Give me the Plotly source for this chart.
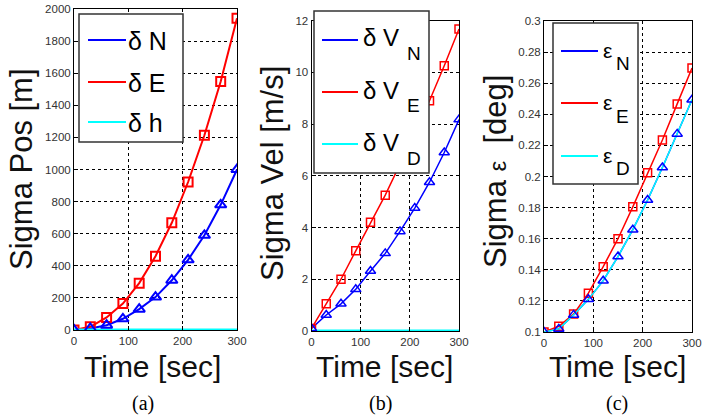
import plotly.graph_objects as go

# ---------------- data ----------------
time_s = [0, 30, 60, 90, 120, 150, 180, 210, 240, 270, 300]

pos_N = [0, 10, 30, 70, 130, 205, 310, 437, 590, 780, 1000]
pos_E = [0, 20, 78, 165, 292, 460, 668, 922, 1213, 1548, 1942]
pos_h = [0, 0, 0, 0, 0, 0, 0, 0, 0, 0, 0]

vel_N = [0.1, 0.62, 1.05, 1.61, 2.32, 3.0, 3.85, 4.75, 5.75, 6.9, 8.17]
vel_E = [0.1, 1.05, 2.0, 3.1, 4.2, 5.25, 6.45, 7.65, 8.9, 10.25, 11.67]
vel_D = [0, 0, 0, 0, 0, 0, 0, 0, 0, 0, 0]

att_N = [0.1, 0.102, 0.111, 0.121, 0.133, 0.1485, 0.1658, 0.1849, 0.2058, 0.2274, 0.2494]
att_E = [0.1, 0.1037, 0.1115, 0.125, 0.142, 0.160, 0.1805, 0.2024, 0.2235, 0.2467, 0.2698]
att_D = [0.1, 0.102, 0.111, 0.121, 0.133, 0.1485, 0.1658, 0.1849, 0.2058, 0.2274, 0.2494]

x_ticks = [0, 100, 200, 300]
x_ticktext = ["0", "100", "200", "300"]
pos_ticks = [0, 200, 400, 600, 800, 1000, 1200, 1400, 1600, 1800, 2000]
pos_ticktext = ["0", "200", "400", "600", "800", "1000", "1200", "1400", "1600", "1800", "2000"]
vel_ticks = [0, 2, 4, 6, 8, 10, 12]
vel_ticktext = ["0", "2", "4", "6", "8", "10", "12"]
att_ticks = [0.1, 0.12, 0.14, 0.16, 0.18, 0.2, 0.22, 0.24, 0.26, 0.28, 0.3]
att_ticktext = ["0.1", "0.12", "0.14", "0.16", "0.18", "0.2", "0.22", "0.24", "0.26", "0.28", "0.3"]

x_title = "Time [sec]"
y_titles = ["Sigma Pos [m]", "Sigma Vel [m/s]",
            "Sigma <span style='font-size:24px'>\u03b5</span>  [deg]"]
captions = ["(a)", "(b)", "(c)"]

# ---------------- figure ----------------
W, H = 702, 417
def X(px):
    return px / W
def Y(py):
    return 1 - py / H

BLUE, RED, CYAN = "#0000ff", "#ff0000", "#00ffff"
SANS = "Liberation Sans, Arial, sans-serif"
SERIF = "Liberation Serif, Times New Roman, serif"

fig = go.Figure()

panels = [
    (pos_N, pos_E, pos_h, "x", "y", 2, 3, 9, 10),
    (vel_N, vel_E, vel_D, "x2", "y2", 1.5, 3, 8, 9),
    (att_N, att_E, att_D, "x3", "y3", 1.5, 1.5, 8, 9),
]
for n, e, d, xa, ya, lw, cw, sq, tri in panels:
    fig.add_trace(go.Scatter(x=time_s, y=n, mode="lines", line=dict(color=BLUE, width=lw),
                             xaxis=xa, yaxis=ya, showlegend=False))
    fig.add_trace(go.Scatter(x=time_s, y=e, mode="lines+markers", line=dict(color=RED, width=lw),
                             marker=dict(symbol="square-open", size=sq, color=RED, line=dict(width=lw)),
                             xaxis=xa, yaxis=ya, showlegend=False))
    fig.add_trace(go.Scatter(x=time_s, y=d, mode="lines", line=dict(color=CYAN, width=cw),
                             xaxis=xa, yaxis=ya, showlegend=False))
    fig.add_trace(go.Scatter(x=time_s, y=n, mode="markers",
                             marker=dict(symbol="triangle-up-open", size=tri, color=BLUE, line=dict(width=lw)),
                             xaxis=xa, yaxis=ya, showlegend=False))

axis_common = dict(showline=True, mirror=True, linecolor="black", linewidth=1,
                   ticks="inside", ticklen=4, tickcolor="black", automargin=False,
                   showgrid=True, gridcolor="black", gridwidth=1, griddash="3px,3px",
                   zeroline=False, tickfont=dict(family=SANS, size=11.5, color="#333333"))

doms = [((74, 237), (9, 330)), ((311.5, 459), (20.5, 331)), ((544, 692), (21, 332))]
yranges = [[0, 2000], [0, 12], [0.1, 0.3]]
yticks = [(pos_ticks, pos_ticktext), (vel_ticks, vel_ticktext), (att_ticks, att_ticktext)]
layout_axes = {}
for i, ((x0, x1), (y0, y1)) in enumerate(doms):
    sfx = "" if i == 0 else str(i + 1)
    layout_axes["xaxis" + sfx] = dict(axis_common, domain=[X(x0), X(x1)], range=[0, 300],
                                      anchor="y" + sfx, tickvals=x_ticks, ticktext=x_ticktext)
    layout_axes["yaxis" + sfx] = dict(axis_common, domain=[Y(y1), Y(y0)], range=yranges[i],
                                      anchor="x" + sfx, tickvals=yticks[i][0], ticktext=yticks[i][1])
fig.update_layout(**layout_axes)

annotations = []
shapes = []

def text(px, py, s, size, family=SANS, angle=0, xanchor="center", color="#111111"):
    annotations.append(dict(x=X(px), y=Y(py), xref="paper", yref="paper", text=s, showarrow=False,
                            textangle=angle, xanchor=xanchor, yanchor="middle", borderpad=0,
                            font=dict(family=family, size=size, color=color)))

# axis titles
for cx in (152, 384, 617):
    text(cx, 366, x_title, 30)
text(22, 169, y_titles[0], 31, angle=-90)
text(272, 174, y_titles[1], 31, angle=-90)
text(495, 172, y_titles[2], 31, angle=-90)
# captions
for cx, cap in zip((143, 380, 617), captions):
    text(cx, 403, cap, 20, family=SERIF, color="black")

# legends
def box(x0, y0, x1, y1):
    shapes.append(dict(type="rect", xref="paper", yref="paper", x0=X(x0), x1=X(x1), y0=Y(y1), y1=Y(y0),
                       fillcolor="white", line=dict(color="#333333", width=1.5), layer="above"))

def swatch(x0, x1, py, color, w):
    shapes.append(dict(type="line", xref="paper", yref="paper", x0=X(x0), x1=X(x1), y0=Y(py), y1=Y(py),
                       line=dict(color=color, width=w), layer="above"))

cols = [BLUE, RED, CYAN]
# (a)
box(79, 14, 183, 142)
for py, c, lab in zip((40, 82, 122), cols, ["\u03b4 N", "\u03b4 E", "\u03b4 h"]):
    swatch(88, 126, py, c, 2)
    text(127, py + 1, lab, 25, xanchor="left", color="black")
# (b)
box(314, 11, 429, 173)
for py, c, sub in zip((40, 92, 144), cols, ["N", "E", "D"]):
    swatch(322, 358, py, c, 2)
    text(362, py - 2, "\u03b4 V", 24, xanchor="left", color="black")
    text(406, py + 14, sub, 19, xanchor="left", color="black")
# (c)
box(553, 23, 638, 184)
for py, c, sub in zip((51, 103, 156), cols, ["N", "E", "D"]):
    swatch(561, 598, py, c, 2)
    text(602, py - 1, "\u03b5", 21, xanchor="left", color="black")
    text(615, py + 13, sub, 19, xanchor="left", color="black")

fig.update_layout(width=W, height=H, margin=dict(l=0, r=0, t=0, b=0, pad=0, autoexpand=False),
                  paper_bgcolor="white", plot_bgcolor="white",
                  annotations=annotations, shapes=shapes, showlegend=False)

fig.write_html("out.html", config={"displayModeBar": False},
               post_script="document.body.style.margin='0';document.body.style.overflow='hidden';")
